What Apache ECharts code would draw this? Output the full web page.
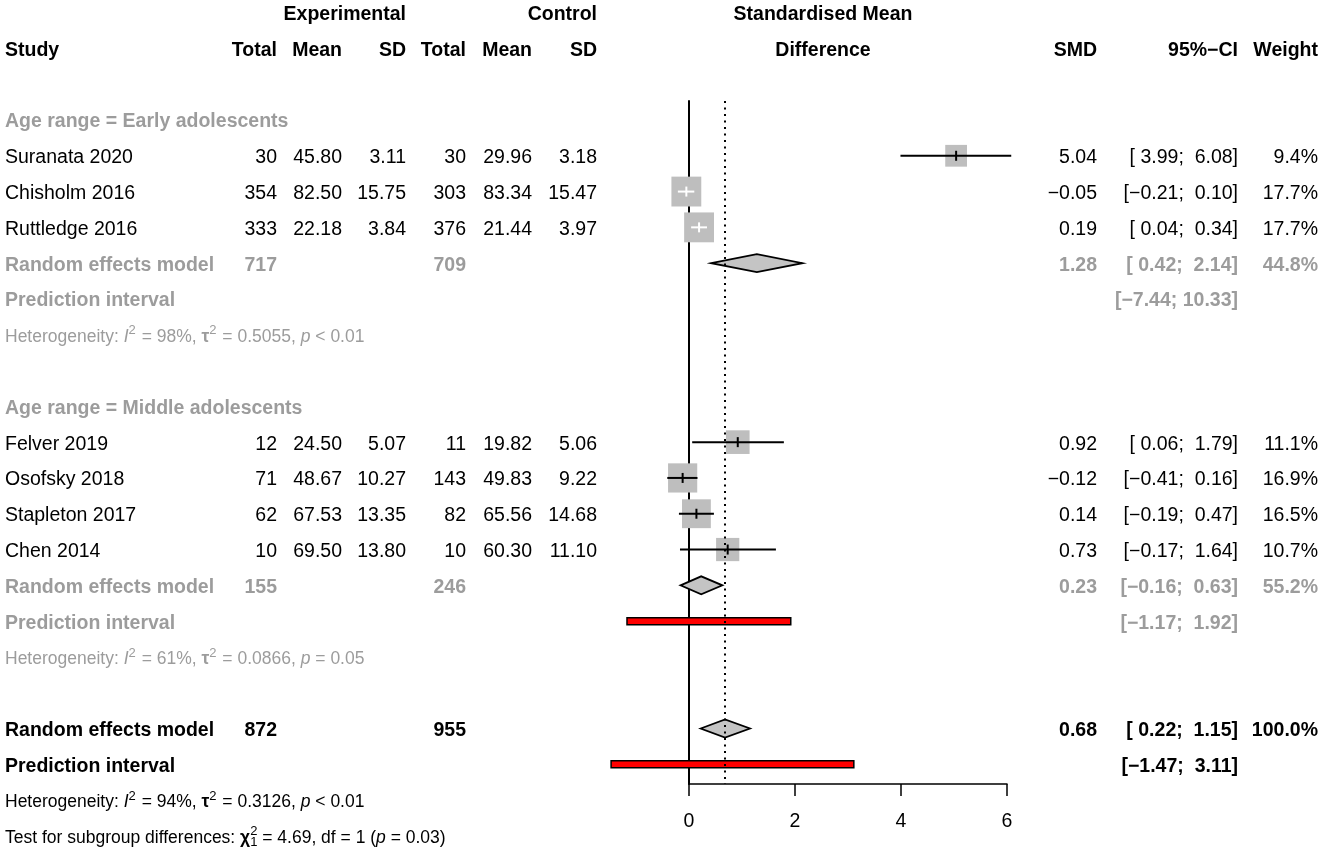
<!DOCTYPE html>
<html>
<head>
<meta charset="utf-8">
<script src="https://cdn.jsdelivr.net/npm/echarts@6.0.0/dist/echarts.min.js"></script>
<style>
  html, body { margin: 0; padding: 0; background: #fff; }
  #chart { width: 1325px; height: 852px; }
</style>
</head>
<body>
<div id="chart"></div>
<script>
// study level data
const studies = ["Suranata 2020", "Chisholm 2016", "Ruttledge 2016", "Felver 2019", "Osofsky 2018", "Stapleton 2017", "Chen 2014"];
const studyGroup = [0, 0, 0, 1, 1, 1, 1];
const expTotal = [30, 354, 333, 12, 71, 62, 10];
const expMean = [45.8, 82.5, 22.18, 24.5, 48.67, 67.53, 69.5];
const expSD = [3.11, 15.75, 3.84, 5.07, 10.27, 13.35, 13.8];
const ctrlTotal = [30, 303, 376, 11, 143, 82, 10];
const ctrlMean = [29.96, 83.34, 21.44, 19.82, 49.83, 65.56, 60.3];
const ctrlSD = [3.18, 15.47, 3.97, 5.06, 9.22, 14.68, 11.1];
const smd = [5.04, -0.05, 0.19, 0.92, -0.12, 0.14, 0.73];
const ciLow = [3.99, -0.21, 0.04, 0.06, -0.41, -0.19, -0.17];
const ciHigh = [6.08, 0.10, 0.34, 1.79, 0.16, 0.47, 1.64];
const weight = [9.4, 17.7, 17.7, 11.1, 16.9, 16.5, 10.7];

// subgroup summaries
const groups = ["Early adolescents", "Middle adolescents"];
const groupExpTotal = [717, 155];
const groupCtrlTotal = [709, 246];
const groupSmd = [1.28, 0.23];
const groupCiLow = [0.42, -0.16];
const groupCiHigh = [2.14, 0.63];
const groupWeight = [44.8, 55.2];
const groupPiLow = [-7.44, -1.17];
const groupPiHigh = [10.33, 1.92];
const groupI2 = ["98%", "61%"];
const groupTau2 = ["0.5055", "0.0866"];
const groupP = ["< 0.01", "= 0.05"];

// overall
const overall = { expTotal: 872, ctrlTotal: 955, smd: 0.68, lo: 0.22, hi: 1.15, weight: 100.0, piLow: -1.47, piHigh: 3.11, i2: "94%", tau2: "0.3126", p: "< 0.01" };
const subgroupTest = { chi2: "4.69", df: 1, p: "0.03" };

const xTicks = [0, 6, 2]; // min, max, interval

const BLACK = "#000";
const GRAY = "#9c9c9c";
const FONT = "'Liberation Sans', Arial, sans-serif";
const FS = 19.5;
const FS_SMALL = 17.5;
const FS_SCRIPT = 13;
const TEXT_SHIFT = 2;
const plotLimit = [-1.6, 6.2];

const col = {
  study: 5, expTotal: 277, expMean: 342, expSD: 406,
  ctrlTotal: 466, ctrlMean: 532, ctrlSD: 597,
  effect: 823, smd: 1097, ci: 1238, weight: 1318,
};

const num = (v, d = 2) => (v < 0 ? "\u2212" : "") + Math.abs(v).toFixed(d);
const pad = (s, n) => " ".repeat(Math.max(0, n - s.length)) + s;
const ciText = (lo, hi) => "[" + pad(num(lo), 5) + "; " + pad(num(hi), 5) + "]";
const hetParts = (i2, tau2, p) => [
  ["Heterogeneity: ", "n"], ["I", "i"], ["2", "sup"], [" = " + i2 + ", ", "n"],
  ["\u03c4", "b"], ["2", "sup"], [" = " + tau2 + ", ", "n"], ["p", "i"], [" " + p, "n"],
];

// build rows of the table
const rows = [];
const cell = (x, text, align = "right", opts = {}) => ({ x, text, align, ...opts });
rows.push({ r: -3, cells: [
  cell(col.expSD, "Experimental", "right", { bold: true }),
  cell(col.ctrlSD, "Control", "right", { bold: true }),
  cell(col.effect, "Standardised Mean", "center", { bold: true }),
] });
rows.push({ r: -2, cells: [
  cell(col.study, "Study", "left", { bold: true }),
  cell(col.expTotal, "Total", "right", { bold: true }),
  cell(col.expMean, "Mean", "right", { bold: true }),
  cell(col.expSD, "SD", "right", { bold: true }),
  cell(col.ctrlTotal, "Total", "right", { bold: true }),
  cell(col.ctrlMean, "Mean", "right", { bold: true }),
  cell(col.ctrlSD, "SD", "right", { bold: true }),
  cell(col.effect, "Difference", "center", { bold: true }),
  cell(col.smd, "SMD", "right", { bold: true }),
  cell(col.ci, "95%\u2212CI", "right", { bold: true }),
  cell(col.weight, "Weight", "right", { bold: true }),
] });

const studyRow = [];
const groupRow = [];
const groupPiRow = [];
let r = 0;
groups.forEach((g, gi) => {
  rows.push({ r, cells: [cell(col.study, "Age range = " + g, "left", { bold: true, color: GRAY })] });
  r++;
  studies.forEach((s, i) => {
    if (studyGroup[i] !== gi) return;
    studyRow[i] = r;
    rows.push({ r, cells: [
      cell(col.study, s, "left"),
      cell(col.expTotal, String(expTotal[i])),
      cell(col.expMean, expMean[i].toFixed(2)),
      cell(col.expSD, expSD[i].toFixed(2)),
      cell(col.ctrlTotal, String(ctrlTotal[i])),
      cell(col.ctrlMean, ctrlMean[i].toFixed(2)),
      cell(col.ctrlSD, ctrlSD[i].toFixed(2)),
      cell(col.smd, num(smd[i])),
      cell(col.ci, ciText(ciLow[i], ciHigh[i])),
      cell(col.weight, weight[i].toFixed(1) + "%"),
    ] });
    r++;
  });
  const o = { bold: true, color: GRAY };
  groupRow[gi] = r;
  rows.push({ r, cells: [
    cell(col.study, "Random effects model", "left", o),
    cell(col.expTotal, String(groupExpTotal[gi]), "right", o),
    cell(col.ctrlTotal, String(groupCtrlTotal[gi]), "right", o),
    cell(col.smd, num(groupSmd[gi]), "right", o),
    cell(col.ci, ciText(groupCiLow[gi], groupCiHigh[gi]), "right", o),
    cell(col.weight, groupWeight[gi].toFixed(1) + "%", "right", o),
  ] });
  r++;
  groupPiRow[gi] = r;
  rows.push({ r, cells: [
    cell(col.study, "Prediction interval", "left", o),
    cell(col.ci, ciText(groupPiLow[gi], groupPiHigh[gi]), "right", o),
  ] });
  r++;
  rows.push({ r, cells: [cell(col.study, null, "left", { color: GRAY, parts: hetParts(groupI2[gi], groupTau2[gi], groupP[gi]) })] });
  r += 2;
});
const overallRow = r;
rows.push({ r, cells: [
  cell(col.study, "Random effects model", "left", { bold: true }),
  cell(col.expTotal, String(overall.expTotal), "right", { bold: true }),
  cell(col.ctrlTotal, String(overall.ctrlTotal), "right", { bold: true }),
  cell(col.smd, num(overall.smd), "right", { bold: true }),
  cell(col.ci, ciText(overall.lo, overall.hi), "right", { bold: true }),
  cell(col.weight, overall.weight.toFixed(1) + "%", "right", { bold: true }),
] });
r++;
const overallPiRow = r;
rows.push({ r, cells: [
  cell(col.study, "Prediction interval", "left", { bold: true }),
  cell(col.ci, ciText(overall.piLow, overall.piHigh), "right", { bold: true }),
] });
r++;
rows.push({ r, cells: [cell(col.study, null, "left", { parts: hetParts(overall.i2, overall.tau2, overall.p) })] });
r++;
rows.push({ r, cells: [cell(col.study, null, "left", { parts: [
  ["Test for subgroup differences: ", "n"], ["\u03c7", "b"], ["2", "supStack"], ["1", "sub"],
  [" = " + subgroupTest.chi2 + ", df = " + subgroupTest.df + " (", "n"], ["p", "i"], [" = " + subgroupTest.p + ")", "n"],
] })] });

// small text with super/subscripts, laid out piece by piece
const measureCtx = document.createElement("canvas").getContext("2d");
const partFont = (kind) => {
  const size = kind === "sup" || kind === "supStack" || kind === "sub" ? FS_SCRIPT : FS_SMALL;
  return (kind === "i" ? "italic " : "") + (kind === "b" ? "bold " : "") + size + "px " + FONT;
};
function partsElements(c, y, color) {
  let x = c.x;
  const out = [];
  c.parts.forEach(([t, kind]) => {
    const font = partFont(kind);
    measureCtx.font = font;
    const w = measureCtx.measureText(t).width;
    const dy = kind === "sup" || kind === "supStack" ? -6 : kind === "sub" ? 5 : 0;
    out.push({
      type: "text", x, y: y + dy,
      style: { text: t, fill: color, font, align: "left", verticalAlign: "middle" },
    });
    if (kind !== "supStack") x += w + (kind === "sup" ? 1 : 0);
  });
  return out;
}

function renderText(params, api) {
  const row = rows[params.dataIndex];
  const y = api.coord([0, row.r])[1] + TEXT_SHIFT;
  const children = [];
  row.cells.forEach((c) => {
    const color = c.color || BLACK;
    if (c.parts) {
      children.push(...partsElements(c, y, color));
      return;
    }
    children.push({
      type: "text",
      x: c.x,
      y,
      style: {
        text: c.text,
        fill: color,
        fontFamily: FONT,
        fontSize: FS,
        fontWeight: c.bold ? "bold" : "normal",
        align: c.align,
        verticalAlign: "middle",
      },
    });
  });
  return { type: "group", children };
}

function renderStudy(params, api) {
  const y = api.value(1);
  const p = api.coord([api.value(0), y]);
  const lo = api.coord([api.value(2), y]);
  const hi = api.coord([api.value(3), y]);
  const s = 7.1 * Math.sqrt(api.value(4));
  const c = hi[0] - lo[0] < s ? "#fff" : BLACK;
  return {
    type: "group",
    children: [
      { type: "rect", shape: { x: p[0] - s / 2, y: p[1] - s / 2, width: s, height: s }, style: { fill: "#bebebe" } },
      { type: "line", shape: { x1: lo[0], y1: p[1], x2: hi[0], y2: p[1] }, style: { stroke: c, lineWidth: 2 } },
      { type: "line", shape: { x1: p[0], y1: p[1] - 5, x2: p[0], y2: p[1] + 5 }, style: { stroke: c, lineWidth: 2 } },
    ],
  };
}

function renderDiamond(params, api) {
  const y = api.value(1);
  const p = api.coord([api.value(0), y]);
  const lo = api.coord([api.value(2), y]);
  const hi = api.coord([api.value(3), y]);
  return {
    type: "polygon",
    shape: { points: [[lo[0], p[1]], [p[0], p[1] - 9], [hi[0], p[1]], [p[0], p[1] + 9]] },
    style: { fill: "#c4c4c4", stroke: BLACK, lineWidth: 1.8 },
  };
}

function renderPI(params, api) {
  const lov = api.value(1), hiv = api.value(2);
  if (lov < plotLimit[0] || hiv > plotLimit[1]) return null;
  const lo = api.coord([lov, api.value(0)]);
  const hi = api.coord([hiv, api.value(0)]);
  return {
    type: "rect",
    shape: { x: lo[0], y: lo[1] - 3.5, width: hi[0] - lo[0], height: 7 },
    style: { fill: "#ff0000", stroke: BLACK, lineWidth: 1.5 },
  };
}

const chart = echarts.init(document.getElementById("chart"), null, { renderer: "canvas" });
chart.setOption({
  animation: false,
  backgroundColor: "#fff",
  grid: { left: 689, right: 318, top: 101, bottom: 68 },
  xAxis: {
    type: "value",
    min: xTicks[0],
    max: xTicks[1],
    interval: xTicks[2],
    axisLine: { onZero: false, lineStyle: { color: BLACK, width: 1.5 } },
    axisTick: { length: 12, lineStyle: { color: BLACK, width: 1.5 } },
    axisLabel: { color: BLACK, fontFamily: FONT, fontSize: FS, margin: 28 },
    splitLine: { show: false },
  },
  yAxis: {
    type: "value",
    inverse: true,
    min: -0.53,
    max: 18.55,
    axisLine: { show: true, onZero: false, lineStyle: { color: BLACK, width: 2 } },
    axisTick: { show: false },
    axisLabel: { show: false },
    splitLine: { show: false },
  },
  series: [
    {
      type: "custom",
      name: "pi",
      clip: false,
      data: [0, 1].map((gi) => [groupPiRow[gi], groupPiLow[gi], groupPiHigh[gi]])
        .concat([[overallPiRow, overall.piLow, overall.piHigh]]),
      renderItem: renderPI,
      markLine: {
        silent: true,
        symbol: "none",
        label: { show: false },
        lineStyle: { color: BLACK, type: [2, 4.5], width: 2 },
        data: [{ xAxis: overall.smd }],
      },
      z: 3,
    },
    {
      type: "custom",
      name: "studies",
      clip: false,
      data: smd.map((v, i) => [v, studyRow[i], ciLow[i], ciHigh[i], weight[i]]),
      renderItem: renderStudy,
      z: 4,
    },
    {
      type: "custom",
      name: "summary",
      clip: false,
      data: [0, 1].map((gi) => [groupSmd[gi], groupRow[gi], groupCiLow[gi], groupCiHigh[gi]])
        .concat([[overall.smd, overallRow, overall.lo, overall.hi]]),
      renderItem: renderDiamond,
      z: 4,
    },
    {
      type: "custom",
      name: "table",
      clip: false,
      silent: true,
      data: rows.map((row) => [0, row.r]),
      renderItem: renderText,
      z: 5,
    },
  ],
});
</script>
</body>
</html>
